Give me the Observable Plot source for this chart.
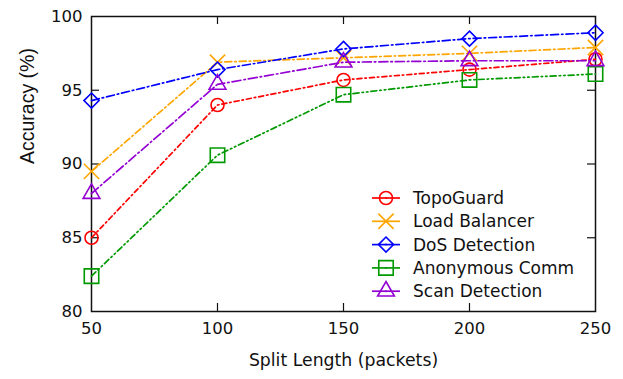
<!DOCTYPE html>
<html><head><meta charset="utf-8">
<script src="https://cdn.jsdelivr.net/npm/d3@7"></script>
<script src="https://cdn.jsdelivr.net/npm/@observablehq/plot@0.6"></script>
<style>
body{margin:0;background:#fff;}
#wrap{position:relative;width:623px;height:379px;font-family:"DejaVu Sans";}
#legend{position:absolute;left:0;top:0;pointer-events:none;}
</style></head><body><div id="wrap"></div>
<script>
// ---- data ----
const splitLengths = [50, 100, 150, 200, 250];
const yTicks = [80, 85, 90, 95, 100];
const seriesNames = ["TopoGuard", "Load Balancer", "DoS Detection", "Anonymous Comm", "Scan Detection"];
const topoGuard     = [85.0, 94.0, 95.7, 96.4, 97.1];
const loadBalancer  = [89.5, 96.9, 97.2, 97.5, 97.9];
const dosDetection  = [94.3, 96.4, 97.8, 98.5, 98.9];
const anonymousComm = [82.4, 90.6, 94.7, 95.7, 96.1];
const scanDetection = [88.0, 95.4, 96.9, 97.0, 97.0];
const seriesValues = [topoGuard, loadBalancer, dosDetection, anonymousComm, scanDetection];

// ---- styles ----
const colors  = ["#ff0000", "#ffa500", "#0000ff", "#009a00", "#9400d3"];
const symbols = ["circle", "times", "diamond2", "square2", "triangle2"];
const d3Symbols = [d3.symbolCircle, d3.symbolTimes, d3.symbolDiamond2, d3.symbolSquare2, d3.symbolTriangle2];
const symbolR = [6.5, 7, 6.8, 9.2, 8];
const dashes  = ["5,3,1.5,3", "7,3,1.5,3", "8,3,1.5,3", "6,3,1.5,3,1.5,3", "9,3,1.5,3"];

const rows = seriesNames.flatMap((name, i) =>
  splitLengths.map((x, j) => ({series: name, x, y: seriesValues[i][j]})));

const W = 623, H = 379;
const mL = 91, mR = 28, mT = 16, mB = 68;
const tick = 8;
const innerW = W - mL - mR, innerH = H - mT - mB;
const font = "DejaVu Sans";

const marks = [
  Plot.frame({stroke: "#111", strokeWidth: 1.5}),
  // inward ticks
  Plot.ruleX(splitLengths.slice(1, -1), {x: d => d, insetTop: innerH - tick, stroke: "#111", strokeWidth: 1.2}),
  Plot.ruleX(splitLengths.slice(1, -1), {x: d => d, insetBottom: innerH - tick, stroke: "#111", strokeWidth: 1.2}),
  Plot.ruleY(yTicks.slice(1, -1), {y: d => d, insetRight: innerW - tick, stroke: "#111", strokeWidth: 1.2}),
  Plot.ruleY(yTicks.slice(1, -1), {y: d => d, insetLeft: innerW - tick, stroke: "#111", strokeWidth: 1.2}),
  // tick labels
  Plot.text(splitLengths, {x: d => d, text: d => String(d), frameAnchor: "bottom", dy: 22, fontSize: 16.5, fill: "#111"}),
  Plot.text(yTicks, {y: d => d, text: d => String(d), frameAnchor: "left", dx: -9, textAnchor: "end", fontSize: 16.5, fill: "#111"}),
  // axis labels
  Plot.text(["Split Length (packets)"], {text: d => d, frameAnchor: "bottom", dy: 54, fontSize: 17.3, fill: "#111"}),
  Plot.text(["Accuracy (%)"], {text: d => d, frameAnchor: "left", dx: -64, rotate: -90, fontSize: 19.5, fontFamily: "Liberation Sans", fill: "#111"})
];

seriesNames.forEach((name, i) => {
  const data = rows.filter(r => r.series === name);
  marks.push(Plot.line(data, {x: "x", y: "y", stroke: colors[i], strokeWidth: 1.7, strokeDasharray: dashes[i]}));
  marks.push(Plot.dot(data, {x: "x", y: "y", symbol: symbols[i], r: symbolR[i], stroke: colors[i], strokeWidth: 1.6, fill: "none"}));
});

const chart = Plot.plot({
  width: W, height: H,
  marginLeft: mL, marginRight: mR, marginTop: mT, marginBottom: mB,
  style: {fontFamily: font, background: "#fff", overflow: "visible"},
  x: {domain: [50, 250], axis: null},
  y: {domain: [80, 100], axis: null},
  marks
});
const wrap = document.getElementById("wrap");
wrap.appendChild(chart);

// ---- legend (inside plot, lower right) ----
const leg = d3.select(wrap).append("svg").attr("id", "legend").attr("width", W).attr("height", H);
const lx0 = 372, lx1 = 400, lcx = 386, ltx = 413, ly0 = 198, lstep = 23.3;
seriesNames.forEach((name, i) => {
  const g = leg.append("g").attr("transform", `translate(0,${ly0 + i * lstep})`);
  g.append("line").attr("x1", lx0).attr("x2", lx1).attr("stroke", colors[i]).attr("stroke-width", 1.7);
  g.append("path").attr("transform", `translate(${lcx},0)`)
    .attr("d", d3.symbol(d3Symbols[i], Math.PI * symbolR[i] * symbolR[i])())
    .attr("fill", "none").attr("stroke", colors[i]).attr("stroke-width", 1.6);
  g.append("circle").attr("cx", lcx).attr("r", 1).attr("fill", colors[i]);
  g.append("text").attr("x", ltx).attr("dy", "0.35em").attr("font-size", 17)
    .attr("font-family", font).attr("fill", "#111").text(name);
});
</script>
</body></html>
